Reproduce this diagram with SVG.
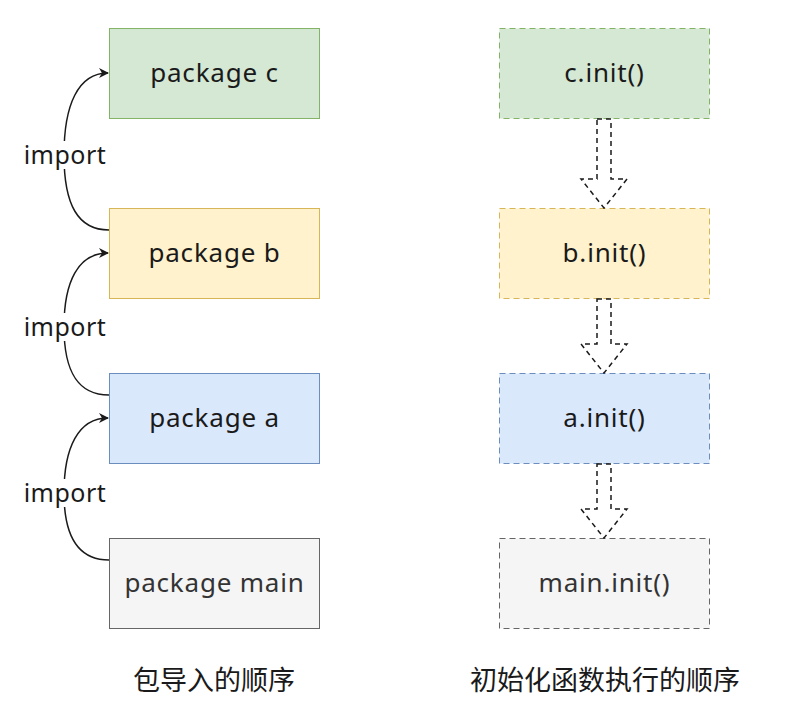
<svg xmlns="http://www.w3.org/2000/svg" width="808" height="724" viewBox="0 0 808 724">
<defs>
<style>
.lbl{font-family:"Noto Sans","Open Sans",sans-serif;font-size:26px;letter-spacing:0.8px;text-anchor:middle;dominant-baseline:central;fill:#1a1a1a}
.imp{font-family:"Noto Sans","Open Sans",sans-serif;font-size:25px;letter-spacing:0.5px;text-anchor:middle;dominant-baseline:central;fill:#1a1a1a}
.cap{font-family:"Noto Sans CJK SC",sans-serif;font-size:27px;text-anchor:middle;fill:#1a1a1a}
.edge{fill:none;stroke:#1a1a1a;stroke-width:1.5}
.blk{fill:#fff;stroke:#1a1a1a;stroke-width:1.5;stroke-dasharray:5 4}
.d{stroke-dasharray:6 4}
</style>
<marker id="ah" viewBox="0 0 10 10" refX="9" refY="5" markerWidth="10" markerHeight="10" markerUnits="userSpaceOnUse" orient="auto">
<path d="M0,0 L10,5 L0,10 L3,5 Z" fill="#1a1a1a"/>
</marker>
</defs>
<g id="pkg-c"><rect x="109.5" y="28.5" width="210" height="90" fill="#d5e8d4" stroke="#82b366"/><text class="lbl" x="214.5" y="72">package c</text></g>
<g id="pkg-b"><rect x="109.5" y="208.5" width="210" height="90" fill="#fff2cc" stroke="#d6b656"/><text class="lbl" x="214.5" y="252">package b</text></g>
<g id="pkg-a"><rect x="109.5" y="373.5" width="210" height="90" fill="#dae8fc" stroke="#6c8ebf"/><text class="lbl" x="214.5" y="417">package a</text></g>
<g id="pkg-main"><rect x="109.5" y="538.5" width="210" height="90" fill="#f5f5f5" stroke="#666666"/><text class="lbl" x="214.5" y="582" style="fill:#333">package main</text></g>
<g id="init-c"><rect x="499.5" y="28.5" width="210" height="90" fill="#d5e8d4" stroke="#82b366" class="d"/><text class="lbl" x="604.5" y="72">c.init()</text></g>
<g id="init-b"><rect x="499.5" y="208.5" width="210" height="90" fill="#fff2cc" stroke="#d6b656" class="d"/><text class="lbl" x="604.5" y="252">b.init()</text></g>
<g id="init-a"><rect x="499.5" y="373.5" width="210" height="90" fill="#dae8fc" stroke="#6c8ebf" class="d"/><text class="lbl" x="604.5" y="417">a.init()</text></g>
<g id="init-main"><rect x="499.5" y="538.5" width="210" height="90" fill="#f5f5f5" stroke="#666666" class="d"/><text class="lbl" x="604.5" y="582" style="fill:#333">main.init()</text></g>
<g id="connectors">
<path class="edge" d="M109,230 C78,230 64,205 64,155 C64,105 78,73 108,73" marker-end="url(#ah)"/>
<path class="edge" d="M109,395 C78,395 64,372 64,327 C64,282 78,253 108,253" marker-end="url(#ah)"/>
<path class="edge" d="M109,560 C78,560 64,537 64,493 C64,448 78,418 108,418" marker-end="url(#ah)"/>
<path class="blk" d="M597,119 L611,119 L611,179 L627,179 L604,208 L581,179 L597,179 Z"/>
<path class="blk" d="M597,299 L611,299 L611,344 L627,344 L604,373 L581,344 L597,344 Z"/>
<path class="blk" d="M597,464 L611,464 L611,509 L627,509 L604,538 L581,509 L597,509 Z"/>
<rect x="23" y="141" width="86" height="28" fill="#fff"/>
<text class="imp" x="65" y="154">import</text>
<rect x="23" y="313" width="86" height="28" fill="#fff"/>
<text class="imp" x="65" y="326">import</text>
<rect x="23" y="479" width="86" height="28" fill="#fff"/>
<text class="imp" x="65" y="492">import</text>
</g>
<text class="cap" x="214" y="690">包导入的顺序</text>
<text class="cap" x="605" y="690">初始化函数执行的顺序</text>
</svg>
